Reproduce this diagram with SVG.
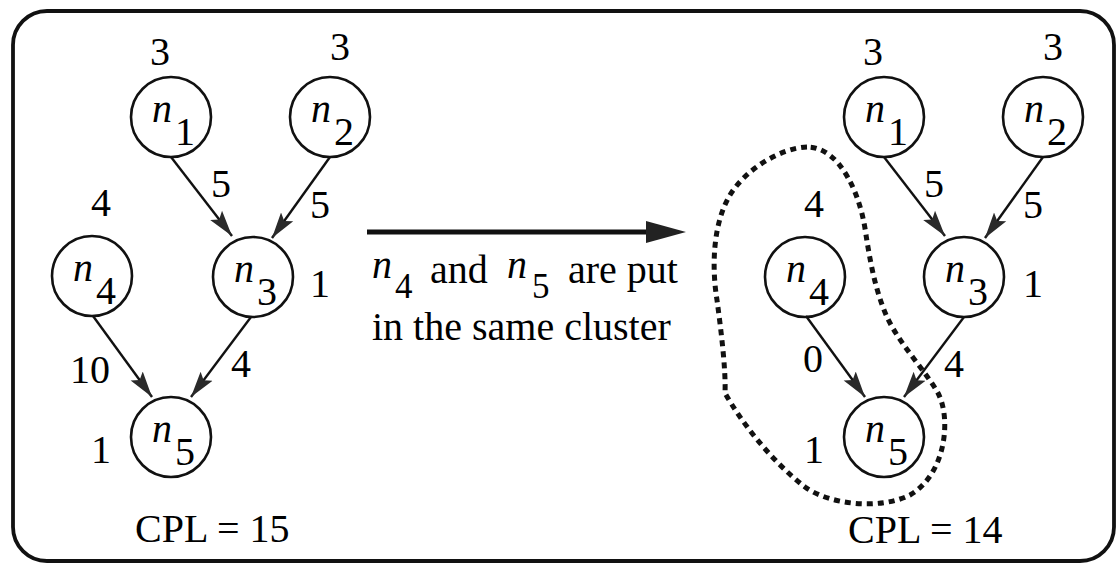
<svg xmlns="http://www.w3.org/2000/svg" width="1117" height="564" viewBox="0 0 1117 564">
<style>
text{font-family:"Liberation Serif","Times New Roman",serif;font-size:40px;fill:#000}
.it{font-style:italic}
.m{text-anchor:middle}
.sub{font-size:35px}
.nd{fill:none;stroke:#111;stroke-width:2.6}
.e{stroke:#111;stroke-width:2.4;fill:none;marker-end:url(#ah)}
</style>
<defs>
<marker id="ah" markerUnits="userSpaceOnUse" markerWidth="28" markerHeight="18" refX="26" refY="8" orient="auto" viewBox="0 0 28 16">
<path d="M0,0.5 L26,8 L0,15.5 L5,8 Z" fill="#2a2a2a"/>
</marker>
</defs>
<rect x="13" y="11" width="1101" height="550" rx="34" fill="#fff" stroke="#111" stroke-width="3.8"/>

<g id="connectors">
<line class="e" x1="171" y1="157" x2="232" y2="236"/>
<line class="e" x1="330" y1="157" x2="272" y2="238"/>
<line class="e" x1="93" y1="316" x2="152" y2="397"/>
<line class="e" x1="251" y1="317" x2="191" y2="397"/>
<line class="e" x1="884" y1="157" x2="945" y2="236"/>
<line class="e" x1="1043" y1="157" x2="985" y2="238"/>
<line class="e" x1="806" y1="316" x2="865" y2="397"/>
<line class="e" x1="964" y1="317" x2="904" y2="397"/>
<line x1="367" y1="232" x2="650" y2="232" stroke="#111" stroke-width="5"/>
<polygon points="646,221 686,232 646,243" fill="#222"/>
</g>

<g id="left-n1"><circle class="nd" cx="171" cy="117" r="40"/><text class="it" x="152" y="122">n</text><text x="175" y="145">1</text><text class="m" x="160" y="65">3</text></g>
<g id="left-n2"><circle class="nd" cx="330" cy="117" r="40"/><text class="it" x="311" y="122">n</text><text x="334" y="145">2</text><text class="m" x="340" y="60">3</text></g>
<g id="left-n3"><circle class="nd" cx="253" cy="277" r="40"/><text class="it" x="234" y="282">n</text><text x="257" y="305">3</text><text class="m" x="320" y="297">1</text></g>
<g id="left-n4"><circle class="nd" cx="92" cy="276" r="40"/><text class="it" x="73" y="281">n</text><text x="96" y="304">4</text><text class="m" x="101" y="216">4</text></g>
<g id="left-n5"><circle class="nd" cx="171" cy="437" r="40"/><text class="it" x="152" y="442">n</text><text x="175" y="465">5</text><text class="m" x="101" y="463">1</text></g>
<g id="left-labels">
<text class="m" x="221" y="197">5</text>
<text class="m" x="320" y="218">5</text>
<text x="110" y="383" text-anchor="end">10</text>
<text class="m" x="241" y="377">4</text>
<text x="135" y="542">CPL = 15</text>
</g>

<g id="caption">
<text class="it" x="372" y="278">n</text><text class="sub" x="395" y="298">4</text>
<text x="430" y="283">and</text>
<text class="it" x="507" y="278">n</text><text class="sub" x="532" y="298">5</text>
<text x="568" y="283">are put</text>
<text x="372" y="340">in the same cluster</text>
</g>

<g id="cluster"><path d="M807,147 C780,148 745,170 730,195 C712,225 712,270 717,300 C721,330 726,370 725,393 C740,420 770,460 805,487 C830,505 880,510 910,495 C945,475 952,420 938,393 C925,370 900,345 887,317 C875,290 870,260 866,235 C862,205 852,180 838,163 C828,152 818,147 807,147 Z" fill="none" stroke="#111" stroke-width="5" stroke-dasharray="6 5"/></g>

<g id="right-n1"><circle class="nd" cx="884" cy="117" r="40"/><text class="it" x="865" y="122">n</text><text x="888" y="145">1</text><text class="m" x="873" y="65">3</text></g>
<g id="right-n2"><circle class="nd" cx="1043" cy="117" r="40"/><text class="it" x="1024" y="122">n</text><text x="1047" y="145">2</text><text class="m" x="1053" y="60">3</text></g>
<g id="right-n3"><circle class="nd" cx="964" cy="277" r="40"/><text class="it" x="945" y="282">n</text><text x="968" y="305">3</text><text class="m" x="1033" y="297">1</text></g>
<g id="right-n4"><circle class="nd" cx="805" cy="277" r="40"/><text class="it" x="786" y="282">n</text><text x="809" y="305">4</text><text class="m" x="814" y="217">4</text></g>
<g id="right-n5"><circle class="nd" cx="884" cy="437" r="40"/><text class="it" x="865" y="442">n</text><text x="888" y="465">5</text><text class="m" x="814" y="463">1</text></g>
<g id="right-labels">
<text class="m" x="934" y="197">5</text>
<text class="m" x="1033" y="218">5</text>
<text x="823" y="372" text-anchor="end">0</text>
<text class="m" x="954" y="377">4</text>
<text x="848" y="543">CPL = 14</text>
</g>
</svg>
